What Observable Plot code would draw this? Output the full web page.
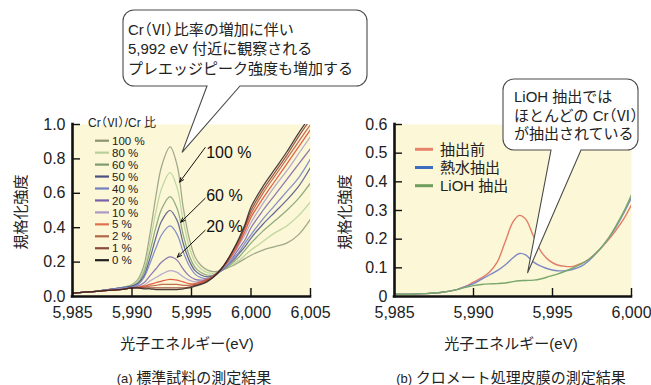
<!DOCTYPE html>
<html>
<head>
<meta charset="utf-8">
<script src="https://cdn.jsdelivr.net/npm/d3@7"></script>
<script src="https://cdn.jsdelivr.net/npm/@observablehq/plot@0.6"></script>
<style>
  html, body { margin: 0; padding: 0; background: #fff; }
  #fig { position: relative; width: 651px; height: 385px; overflow: hidden; background: #fff; }
  #fig .panel { position: absolute; top: 0; }
  #fig .overlay { position: absolute; left: 0; top: 0; pointer-events: none; }
  .cjk { font-family: "Noto Sans CJK JP", sans-serif; font-feature-settings: "palt"; }
</style>
</head>
<body>
<div id="fig"></div>
<script>
// ---------- (a) standard samples: Cr(VI)/Cr ratio series ----------
const energyA = [5985, 5986, 5987, 5988, 5989, 5990, 5990.5, 5991, 5991.5, 5992, 5992.5, 5993.2, 5993.8, 5994.3, 5994.8,
                 5995.3, 5995.8, 5996.3, 5996.8, 5997.5, 5998, 5998.5, 5999, 5999.5, 6000, 6001, 6002, 6003, 6004, 6005];
const cr100 = [0.02, 0.025, 0.03, 0.04, 0.05, 0.07, 0.10, 0.18, 0.36, 0.58, 0.76, 0.87, 0.76, 0.52, 0.34, 0.23, 0.18, 0.155, 0.145, 0.15, 0.165, 0.18, 0.20, 0.22, 0.24, 0.27, 0.29, 0.31, 0.36, 0.45];
const cr80  = [0.02, 0.025, 0.03, 0.04, 0.05, 0.065, 0.09, 0.16, 0.31, 0.49, 0.63, 0.72, 0.63, 0.44, 0.29, 0.20, 0.16, 0.14, 0.135, 0.15, 0.17, 0.19, 0.21, 0.24, 0.27, 0.32, 0.37, 0.41, 0.47, 0.55];
const cr60  = [0.02, 0.025, 0.03, 0.04, 0.05, 0.06, 0.08, 0.14, 0.26, 0.40, 0.51, 0.58, 0.51, 0.36, 0.24, 0.17, 0.14, 0.125, 0.125, 0.15, 0.17, 0.20, 0.23, 0.27, 0.31, 0.38, 0.44, 0.50, 0.57, 0.66];
const cr50  = [0.02, 0.025, 0.03, 0.04, 0.05, 0.06, 0.075, 0.12, 0.22, 0.34, 0.44, 0.50, 0.44, 0.31, 0.21, 0.15, 0.125, 0.115, 0.12, 0.15, 0.18, 0.21, 0.25, 0.29, 0.34, 0.42, 0.49, 0.56, 0.64, 0.75];
const cr40  = [0.02, 0.025, 0.03, 0.04, 0.05, 0.055, 0.07, 0.11, 0.19, 0.28, 0.36, 0.41, 0.36, 0.26, 0.18, 0.13, 0.11, 0.105, 0.115, 0.15, 0.18, 0.22, 0.26, 0.31, 0.36, 0.45, 0.53, 0.61, 0.69, 0.80];
const cr20  = [0.02, 0.025, 0.03, 0.04, 0.045, 0.05, 0.06, 0.08, 0.12, 0.16, 0.20, 0.23, 0.21, 0.16, 0.12, 0.10, 0.095, 0.10, 0.115, 0.155, 0.19, 0.23, 0.28, 0.33, 0.40, 0.50, 0.59, 0.68, 0.77, 0.86];
const cr10  = [0.02, 0.025, 0.03, 0.035, 0.045, 0.05, 0.055, 0.065, 0.09, 0.11, 0.13, 0.15, 0.14, 0.115, 0.095, 0.085, 0.09, 0.10, 0.115, 0.155, 0.19, 0.24, 0.30, 0.36, 0.43, 0.54, 0.64, 0.73, 0.83, 0.93];
const cr5   = [0.02, 0.025, 0.03, 0.035, 0.04, 0.05, 0.055, 0.06, 0.07, 0.08, 0.09, 0.10, 0.095, 0.085, 0.075, 0.075, 0.085, 0.10, 0.115, 0.16, 0.20, 0.25, 0.31, 0.38, 0.46, 0.57, 0.67, 0.77, 0.87, 0.97];
const cr2   = [0.02, 0.025, 0.03, 0.035, 0.04, 0.05, 0.05, 0.055, 0.06, 0.065, 0.07, 0.07, 0.07, 0.065, 0.065, 0.07, 0.08, 0.095, 0.115, 0.16, 0.20, 0.26, 0.32, 0.40, 0.48, 0.60, 0.70, 0.80, 0.90, 1.00];
const cr1   = [0.02, 0.025, 0.03, 0.035, 0.04, 0.05, 0.05, 0.05, 0.05, 0.05, 0.05, 0.05, 0.05, 0.05, 0.055, 0.065, 0.075, 0.09, 0.11, 0.16, 0.21, 0.27, 0.33, 0.41, 0.50, 0.62, 0.72, 0.82, 0.93, 1.03];
const cr0   = [0.02, 0.025, 0.03, 0.035, 0.04, 0.05, 0.05, 0.045, 0.045, 0.04, 0.04, 0.04, 0.04, 0.045, 0.05, 0.06, 0.07, 0.085, 0.11, 0.16, 0.21, 0.27, 0.34, 0.42, 0.52, 0.64, 0.74, 0.84, 0.95, 1.05];
const ratioNames = ["100 %", "80 %", "60 %", "50 %", "40 %", "20 %", "10 %", "5 %", "2 %", "1 %", "0 %"];
const ratioValues = [cr100, cr80, cr60, cr50, cr40, cr20, cr10, cr5, cr2, cr1, cr0];
const xTicksA = [5985, 5990, 5995, 6000, 6005];
const yTicksA = [0, 0.2, 0.4, 0.6, 0.8, 1.0];

// ---------- (b) chromate conversion coating ----------
const energyB = [5985, 5986, 5987, 5988, 5989, 5989.5, 5990, 5990.5, 5991, 5991.5, 5992, 5992.5, 5992.9, 5993.3, 5993.8,
                 5994.3, 5994.8, 5995.3, 5995.8, 5996.3, 5996.8, 5997.3, 5998, 5998.5, 5999, 5999.5, 6000];
const beforeExt = [0.008, 0.008, 0.01, 0.015, 0.025, 0.035, 0.05, 0.065, 0.085, 0.12, 0.19, 0.26, 0.283, 0.27, 0.21, 0.155, 0.125, 0.11, 0.105, 0.105, 0.115, 0.13, 0.165, 0.195, 0.23, 0.27, 0.32];
const hotWater  = [0.008, 0.008, 0.01, 0.015, 0.025, 0.035, 0.045, 0.06, 0.075, 0.09, 0.11, 0.135, 0.15, 0.145, 0.12, 0.105, 0.095, 0.09, 0.09, 0.095, 0.105, 0.125, 0.165, 0.20, 0.24, 0.29, 0.345];
const lioh      = [0.008, 0.008, 0.01, 0.015, 0.025, 0.032, 0.038, 0.042, 0.044, 0.045, 0.047, 0.052, 0.055, 0.056, 0.057, 0.062, 0.07, 0.078, 0.088, 0.10, 0.113, 0.13, 0.165, 0.20, 0.245, 0.295, 0.355];
const extNames = ["抽出前", "熱水抽出", "LiOH 抽出"];
const extValues = [beforeExt, hotWater, lioh];
const xTicksB = [5985, 5990, 5995, 6000];
const yTicksB = [0, 0.1, 0.2, 0.3, 0.4, 0.5, 0.6];

// ---------- styling ----------
const FONT = '"Liberation Sans", Arial, "Noto Sans CJK JP", sans-serif';
const BG = "#fcf7d6";
const INK = "#222";
const ratioColors = ["#939d7e", "#b6d198", "#80a070", "#51558a", "#7383c3", "#7e66ac", "#aa9ecc", "#e04a32", "#b85a40", "#8e4236", "#2e2626"];
const ratioLegendColors = ["#8c9470", "#b8cf98", "#7f9a6c", "#4b5080", "#7080c0", "#7a60a8", "#a89ac8", "#e07050", "#b06848", "#8a4a3a", "#202020"];
const extColors = ["#e27c68", "#7c88c6", "#78a86c"];
const extLegendColors = ["#e8846c", "#3f6cbf", "#6d9e5e"];

const rowsA = ratioNames.flatMap((s, k) => energyA.map((e, i) => ({e, v: ratioValues[k][i], s})));
const rowsB = extNames.flatMap((s, k) => energyB.map((e, i) => ({e, v: extValues[k][i], s})));

// arrows pointing to the pre-edge peaks, with their labels
const peakLabels = [
  {t: "100 %", x: 5996.15, y: 0.836, x2: 5994.0, y2: 0.665, ay: 0.866},
  {t: "60 %",  x: 5996.15, y: 0.583, x2: 5994.1, y2: 0.432, ay: 0.571},
  {t: "20 %",  x: 5996.15, y: 0.404, x2: 5993.8, y2: 0.228, ay: 0.385}
];

const fmtComma = d3.format(",");

function axesMarks(xTicks, yTicks, x0, yFmt, tickPadX) {
  return [
    Plot.ruleX(xTicks.slice(1), {y1: 0, y2: 0, insetBottom: 8, stroke: "#111", strokeWidth: 1.4}),
    Plot.ruleY(yTicks.slice(1), {x1: x0, x2: x0, insetRight: -8, stroke: "#111", strokeWidth: 1.4}),
    Plot.ruleY([0], {stroke: "#111", strokeWidth: 2.6, strokeLinecap: "square"}),
    Plot.ruleX([x0], {stroke: "#111", strokeWidth: 2.6, strokeLinecap: "square"}),
    Plot.axisX(xTicks, {tickFormat: fmtComma, tickSize: 0, tickPadding: tickPadX, label: null, fill: INK}),
    Plot.axisY(yTicks, {tickFormat: yFmt, tickSize: 0, tickPadding: 7, label: null, fill: INK})
  ];
}

const plotStyle = {fontFamily: FONT, fontSize: "16px", color: INK, background: "transparent", overflow: "visible"};

const left = Plot.plot({
  width: 330, height: 330,
  marginLeft: 72, marginRight: 20, marginTop: 124, marginBottom: 34,
  style: plotStyle,
  x: {domain: [5985, 6005], label: null},
  y: {domain: [0, 1], label: null},
  color: {domain: ratioNames, range: ratioColors},
  marks: [
    Plot.frame({fill: BG, stroke: "none"}),
    Plot.line(rowsA, {x: "e", y: "v", z: "s", stroke: "s", curve: "catmull-rom", strokeWidth: 1.25, strokeOpacity: 0.88, clip: true}),
    Plot.arrow(peakLabels, {x1: "x", y1: "ay", x2: "x2", y2: "y2", stroke: "#111", strokeWidth: 1, headLength: 7, headAngle: 45}),
    Plot.text(peakLabels, {x: "x", y: "y", text: "t", textAnchor: "start", fontSize: 16, fill: "#111", dx: 1}),
    ...axesMarks(xTicksA, yTicksA, 5985, d => d.toFixed(1), 10)
  ]
});

const right = Plot.plot({
  width: 321, height: 330,
  marginLeft: 64, marginRight: 20, marginTop: 124, marginBottom: 34,
  style: plotStyle,
  x: {domain: [5985, 6000], label: null},
  y: {domain: [0, 0.6], label: null},
  color: {domain: extNames, range: extColors},
  marks: [
    Plot.frame({fill: BG, stroke: "none"}),
    Plot.line(rowsB, {x: "e", y: "v", z: "s", stroke: "s", curve: "catmull-rom", strokeWidth: 1.4, clip: true}),
    ...axesMarks(xTicksB, yTicksB, 5985, d => d === 0 ? "0" : d.toFixed(1), 10)
  ]
});

const fig = document.getElementById("fig");
left.classList.add("panel"); left.style.left = "0px";
right.classList.add("panel"); right.style.left = "330px";
fig.appendChild(left);
fig.appendChild(right);

// ---------- overlay: callouts, legends, axis titles, captions ----------
const sxA = left.scale("x"), syA = left.scale("y");
const sxB = right.scale("x"), syB = right.scale("y");
const offB = 330;

const svg = d3.create("svg").attr("class", "overlay").attr("width", 651).attr("height", 385)
  .attr("font-family", FONT).attr("fill", INK);

// writes a label, setting the "（Ⅵ）" part in the Japanese face with proportional widths
function richText(sel, str) {
  str.split(/(（Ⅵ）)/).forEach(part => {
    if (!part) return;
    const t = sel.append("tspan").text(part);
    if (part === "（Ⅵ）") t.attr("class", "cjk");
  });
  return sel;
}

function calloutPath(x0, y0, x1, y1, r, b0, b1, tx, ty) {
  return `M${x0 + r},${y0}H${x1 - r}A${r},${r} 0 0 1 ${x1},${y0 + r}V${y1 - r}A${r},${r} 0 0 1 ${x1 - r},${y1}` +
         `H${b1}L${tx},${ty}L${b0},${y1}H${x0 + r}A${r},${r} 0 0 1 ${x0},${y1 - r}V${y0 + r}A${r},${r} 0 0 1 ${x0 + r},${y0}Z`;
}

function callout(box, lines, tip, textX, baselines) {
  svg.append("path")
    .attr("d", calloutPath(box[0], box[1], box[2], box[3], 11, box[4], box[5], tip[0], tip[1]))
    .attr("fill", "#fff").attr("stroke", "#4a4a4a").attr("stroke-width", 1.1);
  lines.forEach((t, i) => richText(svg.append("text").attr("x", textX).attr("y", baselines[i])
    .attr("font-size", 15).attr("fill", INK), t));
}

callout([123, 10, 367, 86, 207, 240],
  ["Cr（Ⅵ）比率の増加に伴い", "5,992 eV 付近に観察される", "プレエッジピーク強度も増加する"],
  [sxA.apply(5994.25), syA.apply(0.835)], 128, [34.5, 54, 73.5]);

callout([503, 79, 638, 150, 551, 581],
  ["LiOH 抽出では", "ほとんどの Cr（Ⅵ）", "が抽出されている"],
  [offB + sxB.apply(5993.45), syB.apply(0.08)], 514, [102, 120.5, 139]);

// legend (a)
richText(svg.append("text").attr("x", 88).attr("y", 126.5).attr("font-size", 12), "Cr（Ⅵ）/Cr 比");
ratioNames.forEach((n, i) => {
  const y = 140.7 + i * 11.95;
  svg.append("line").attr("x1", 95).attr("x2", 109).attr("y1", y).attr("y2", y)
    .attr("stroke", ratioLegendColors[i]).attr("stroke-width", 2.2);
  svg.append("text").attr("x", 112).attr("y", y).attr("dy", "0.36em").attr("font-size", 11.5).text(n);
});

// legend (b)
extNames.forEach((n, i) => {
  const y = 149.3 + i * 18.2;
  svg.append("line").attr("x1", 415).attr("x2", 433).attr("y1", y).attr("y2", y)
    .attr("stroke", extLegendColors[i]).attr("stroke-width", 3);
  svg.append("text").attr("x", 440).attr("y", y).attr("dy", "0.36em").attr("font-size", 15).text(n);
});

// axis titles
[[21, 212], [345, 212]].forEach(([x, y]) => {
  svg.append("text").attr("transform", `translate(${x},${y}) rotate(-90)`)
    .attr("text-anchor", "middle").attr("dy", "0.36em").attr("font-size", 15).text("規格化強度");
});
[187, 511].forEach(x => {
  svg.append("text").attr("x", x).attr("y", 348.5).attr("text-anchor", "middle").attr("font-size", 15).text("光子エネルギー(eV)");
});

// captions
[[194, "(a)", "標準試料の測定結果"], [511, "(b)", "クロメート処理皮膜の測定結果"]].forEach(([x, p, t]) => {
  const txt = svg.append("text").attr("x", x).attr("y", 382.5).attr("text-anchor", "middle").attr("font-size", 15);
  txt.append("tspan").attr("font-size", 13).text(p + " ");
  txt.append("tspan").text(t);
});

fig.appendChild(svg.node());
</script>
</body>
</html>
